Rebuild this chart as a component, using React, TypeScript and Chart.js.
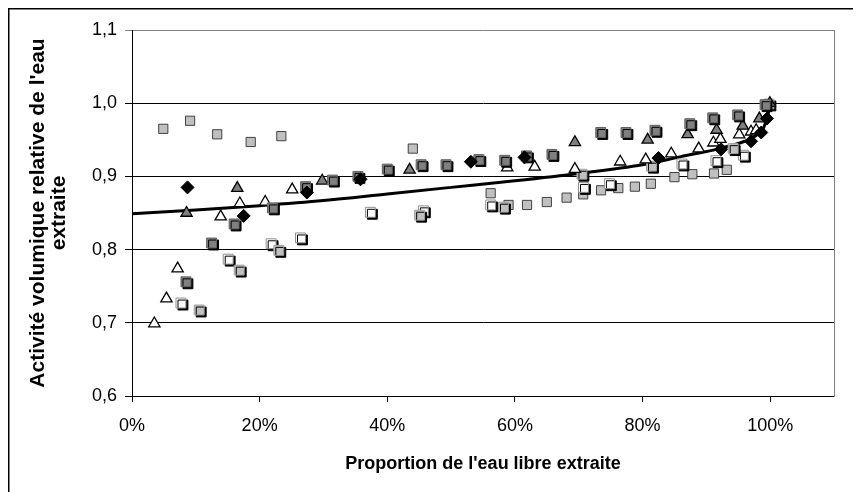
import React, { useEffect, useRef } from 'react';
import { Chart, registerables } from 'chart.js';

Chart.register(...registerables);

type Pt = [number, number];

// ---- axis settings ----
const X_MIN = 0;
const X_MAX = 1.1;
const X_STEP = 0.2;
const Y_MIN = 0.6;
const Y_MAX = 1.1;
const Y_STEP = 0.1;

const X_TITLE = "Proportion de l'eau libre extraite";
const Y_TITLE = ["Activité volumique relative de l'eau", 'extraite'];

// ---- series (x = proportion, y = activité relative) ----
const blackDiamonds: Pt[] = [
  [0.087, 0.885], [0.175, 0.846], [0.274, 0.878], [0.358, 0.896], [0.531, 0.92],
  [0.615, 0.926], [0.825, 0.925], [0.923, 0.937], [0.97, 0.948], [0.986, 0.96],
  [0.995, 0.979],
];

const darkSquares: Pt[] = [
  [0.0845, 0.756], [0.1247, 0.809], [0.16, 0.835], [0.22, 0.857], [0.272, 0.886],
  [0.314, 0.895], [0.354, 0.9], [0.4, 0.91], [0.453, 0.916], [0.492, 0.916],
  [0.5435, 0.923], [0.584, 0.922], [0.618, 0.928], [0.658, 0.93], [0.7345, 0.96],
  [0.774, 0.96], [0.8195, 0.963], [0.874, 0.972], [0.91, 0.98], [0.949, 0.984],
  [0.992, 0.998],
];

const lightShadowSquares: Pt[] = [
  [0.1053, 0.7175], [0.168, 0.772], [0.23, 0.799], [0.4507, 0.847], [0.582, 0.858],
  [0.705, 0.903], [0.814, 0.914], [0.942, 0.938], [0.998, 0.999],
];

const whiteSquares: Pt[] = [
  [0.0767, 0.727], [0.1507, 0.787], [0.218, 0.808], [0.264, 0.816], [0.3735, 0.851],
  [0.4565, 0.853], [0.562, 0.861], [0.7074, 0.885], [0.748, 0.89], [0.8617, 0.917],
  [0.915, 0.9215], [0.958, 0.929],
];

const lightBorderSquares: Pt[] = [
  [0.049, 0.965], [0.091, 0.976], [0.1335, 0.9575], [0.186, 0.947], [0.234, 0.955],
  [0.44, 0.938], [0.562, 0.877], [0.59, 0.861], [0.619, 0.861], [0.65, 0.865],
  [0.681, 0.871], [0.707, 0.8755], [0.735, 0.881], [0.762, 0.884], [0.788, 0.886],
  [0.813, 0.89], [0.85, 0.899], [0.878, 0.903], [0.912, 0.904], [0.932, 0.909],
];

const grayTriangles: Pt[] = [
  [0.0855, 0.85], [0.165, 0.884], [0.298, 0.894], [0.435, 0.909], [0.694, 0.9466],
  [0.808, 0.95], [0.8706, 0.9575], [0.916, 0.9634], [0.957, 0.969], [0.983, 0.979],
  [0.9994, 1.0],
];

const whiteTriangles: Pt[] = [
  [0.035, 0.699], [0.054, 0.733], [0.0715, 0.774], [0.139, 0.845], [0.169, 0.863],
  [0.2087, 0.865], [0.251, 0.882], [0.588, 0.912], [0.631, 0.913], [0.694, 0.91],
  [0.765, 0.92], [0.805, 0.923], [0.845, 0.931], [0.888, 0.938], [0.911, 0.946],
  [0.922, 0.951], [0.9515, 0.957], [0.97, 0.961], [0.978, 0.963],
];

const trendLine: Pt[] = [
  [0, 0.849], [0.1, 0.854], [0.2, 0.86], [0.3, 0.867], [0.4, 0.876], [0.5, 0.885],
  [0.6, 0.894], [0.7, 0.904], [0.8, 0.916], [0.86, 0.927], [0.92, 0.938],
  [0.96, 0.948], [0.98, 0.957], [0.99, 0.967], [1.0, 0.995],
];

const FONT = "'Liberation Sans', Arial, Helvetica, sans-serif";

const toXY = (pts: Pt[]) => pts.map(([x, y]) => ({ x, y }));

const markerShadow = {
  id: 'markerShadow',
  beforeDatasetDraw(chart: any, args: any) {
    const ds = chart.data.datasets[args.index];
    if (ds && ds.shadow) {
      const ctx = chart.ctx;
      ctx.save();
      ctx.shadowColor = '#000000';
      ctx.shadowOffsetX = 2;
      ctx.shadowOffsetY = 2;
      ctx.shadowBlur = 0;
    }
  },
  afterDatasetDraw(chart: any, args: any) {
    const ds = chart.data.datasets[args.index];
    if (ds && ds.shadow) chart.ctx.restore();
  },
};

const frame = {
  id: 'frame',
  beforeDatasetsDraw(chart: any) {
    const { ctx, chartArea } = chart;
    ctx.save();
    ctx.strokeStyle = '#808080';
    ctx.lineWidth = 1;
    ctx.beginPath();
    ctx.moveTo(Math.round(chartArea.right) + 0.5, Math.round(chartArea.top));
    ctx.lineTo(Math.round(chartArea.right) + 0.5, Math.round(chartArea.bottom) + 1);
    ctx.stroke();
    ctx.restore();
  },
  afterDraw(chart: any) {
    const { ctx, width, height } = chart;
    ctx.save();
    ctx.fillStyle = '#000';
    ctx.fillRect(0, 0, 1.5, height);
    ctx.fillRect(0, 0, width, 1.5);
    ctx.restore();
  },
};

export default function App() {
  const ref = useRef<HTMLCanvasElement | null>(null);

  useEffect(() => {
    if (!ref.current) return;
    Chart.defaults.color = '#000';
    const sq = { pointStyle: 'rect', pointRadius: 7, pointHoverRadius: 7, pointBorderWidth: 1 };
    const tri = { pointStyle: 'triangle', pointRadius: 6.5, pointHoverRadius: 6.5, pointBorderWidth: 1.3 };
    const chart = new Chart(ref.current, {
      type: 'scatter',
      data: {
        datasets: [
          {
            label: 'Série 1',
            data: toXY(blackDiamonds),
            pointStyle: 'rectRot', pointRadius: 6.5, pointHoverRadius: 6.5,
            backgroundColor: '#000', borderColor: '#000', pointBorderWidth: 1,
          },
          {
            label: 'Série 2',
            data: toXY(darkSquares),
            ...sq, backgroundColor: '#808080', borderColor: '#606060', shadow: true,
          },
          {
            label: 'Série 3',
            data: toXY(grayTriangles),
            ...tri, backgroundColor: '#808080', borderColor: '#000',
          },
          {
            label: 'Série 4',
            data: toXY(whiteTriangles),
            ...tri, backgroundColor: '#fff', borderColor: '#000',
          },
          {
            label: 'Série 5',
            data: toXY(lightShadowSquares),
            ...sq, backgroundColor: '#c0c0c0', borderColor: '#a0a0a0', shadow: true,
          },
          {
            label: 'Série 6',
            data: toXY(whiteSquares),
            ...sq, backgroundColor: '#fff', borderColor: '#909090', shadow: true,
          },
          {
            label: 'Série 7',
            data: toXY(lightBorderSquares),
            ...sq, pointRadius: 6.5, backgroundColor: '#c0c0c0', borderColor: '#404040',
          },
          {
            label: 'Tendance',
            data: toXY(trendLine),
            showLine: true, pointRadius: 0, pointHoverRadius: 0,
            borderColor: '#000', borderWidth: 3, tension: 0.4,
            cubicInterpolationMode: 'monotone', fill: false,
          },
        ] as any,
      },
      options: {
        responsive: false,
        animation: false,
        events: [],
        layout: { padding: { top: 22, right: 27, left: 0, bottom: 0 } },
        plugins: { legend: { display: false }, tooltip: { enabled: false }, title: { display: false } },
        scales: {
          x: {
            type: 'linear',
            min: X_MIN,
            max: X_MAX,
            afterFit: (s: any) => { s.height = 96; },
            ticks: {
              stepSize: X_STEP,
              includeBounds: false,
              padding: 13.5,
              color: '#000',
              font: { family: FONT, size: 18 },
              callback: (v: any) => Math.round(Number(v) * 100) + '%',
            },
            grid: { drawOnChartArea: false, drawTicks: true, tickLength: 6, color: '#000' },
            border: { display: true, color: '#000', width: 1 },
            title: {
              display: true,
              text: X_TITLE,
              color: '#000',
              font: { family: FONT, size: 18, weight: 'bold' },
              padding: { top: 0, bottom: 16.7 },
            },
          },
          y: {
            type: 'linear',
            min: Y_MIN,
            max: Y_MAX,
            afterFit: (s: any) => { s.width = 124; },
            ticks: {
              stepSize: Y_STEP,
              padding: 8,
              color: '#000',
              font: { family: FONT, size: 18 },
              callback: (v: any) => Number(v).toFixed(1).replace('.', ','),
            },
            grid: {
              drawTicks: true,
              tickLength: 7,
              color: (c: any) => (c.tick && Math.abs(c.tick.value - Y_MAX) < 1e-6 ? '#808080' : '#000'),
            },
            border: { display: true, color: '#000', width: 1 },
            title: {
              display: true,
              text: Y_TITLE,
              color: '#000',
              font: { family: FONT, size: 21, weight: 'bold', lineHeight: '20.5px' },
              padding: { top: 20.25, bottom: 0 },
            },
          },
        },
      },
      plugins: [markerShadow, frame],
    } as any);
    return () => chart.destroy();
  }, []);

  return (
    <div style={{ position: 'relative', width: 853, height: 484 }}>
      <canvas ref={ref} width={853} height={484} style={{ display: 'block', width: 853, height: 484 }} />
    </div>
  );
}
